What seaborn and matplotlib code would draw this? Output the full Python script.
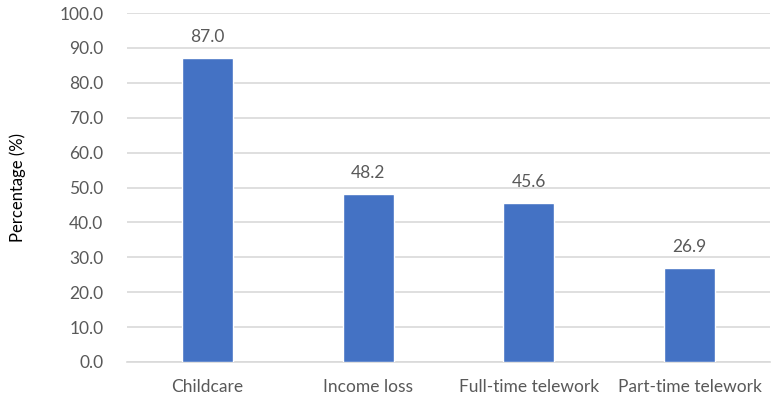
import matplotlib
matplotlib.use("Agg")
import matplotlib.pyplot as plt
import seaborn as sns
import pandas as pd

# Data
categories = ["Childcare", "Income loss", "Full-time telework", "Part-time telework"]
percentages = [87.0, 48.2, 45.6, 26.9]
y_ticks = [0, 10, 20, 30, 40, 50, 60, 70, 80, 90, 100]

df = pd.DataFrame({"category": categories, "pct": percentages})

sns.set_style("white")
plt.rcParams["font.family"] = ["Lato", "DejaVu Sans"]

text_color = "#595959"
grid_color = "#D9D9D9"

fig = plt.figure(figsize=(7.74, 4.0), dpi=100)
ax = fig.add_axes([0.164, 0.095, 0.831, 0.8725])

sns.barplot(data=df, x="category", y="pct", color="#4472C4", width=0.317,
            saturation=1, ax=ax, zorder=3)

for i, v in enumerate(percentages):
    ax.text(i, v + 6.0, f"{v:.1f}", ha="center", va="center",
            fontsize=12.5, color=text_color)

ax.set_ylim(0, 100)
ax.set_yticks(y_ticks)
ax.set_yticklabels([f"{t:.1f}" for t in y_ticks])
ax.yaxis.grid(True, color=grid_color, linewidth=1.2, zorder=0)
ax.set_axisbelow(True)

for s in ["top", "right", "left"]:
    ax.spines[s].set_visible(False)
ax.spines["bottom"].set_color(grid_color)
ax.spines["bottom"].set_linewidth(1.2)

ax.tick_params(axis="both", length=0, labelsize=12.5, colors=text_color)
ax.tick_params(axis="x", pad=12)
ax.tick_params(axis="y", pad=17)
ax.set_xlabel("")
ax.set_ylabel("Percentage (%)", fontsize=12, color="black", labelpad=24)

fig.savefig("out.png", dpi=100)
